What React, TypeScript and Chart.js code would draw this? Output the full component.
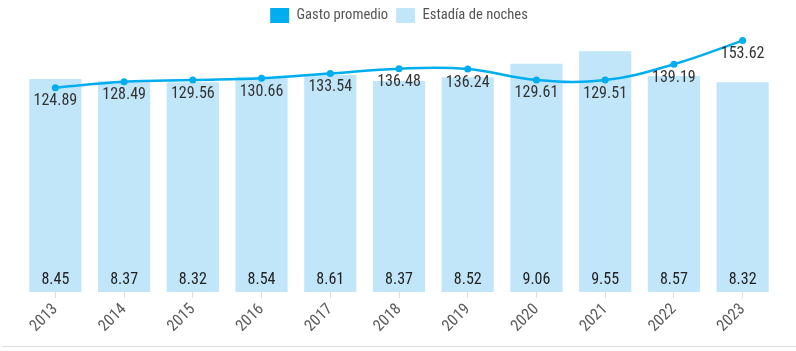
import React, { useEffect, useRef } from "react";
import { Chart, registerables } from "chart.js";

Chart.register(...registerables);

const years = ["2013", "2014", "2015", "2016", "2017", "2018", "2019", "2020", "2021", "2022", "2023"];
const gastoPromedio = [124.89, 128.49, 129.56, 130.66, 133.54, 136.48, 136.24, 129.61, 129.51, 139.19, 153.62];
const estadiaNoches = [8.45, 8.37, 8.32, 8.54, 8.61, 8.37, 8.52, 9.06, 9.55, 8.57, 8.32];

const FONT = "'Liberation Sans Narrow', 'Roboto Condensed', Roboto, sans-serif";

const labelPlugin = {
  id: "valueLabels",
  afterDatasetsDraw(chart: any) {
    const ctx = chart.ctx;
    ctx.save();
    ctx.textAlign = "center";
    ctx.textBaseline = "middle";
    ctx.font = `16px ${FONT}`;
    ctx.fillStyle = "#222222";
    const barMeta = chart.getDatasetMeta(1);
    barMeta.data.forEach((el: any, i: number) => {
      const v = chart.data.datasets[1].data[i] as number;
      ctx.fillText(v.toFixed(2), el.x, el.base - 12);
    });
    ctx.fillStyle = "#333333";
    const lineMeta = chart.getDatasetMeta(0);
    lineMeta.data.forEach((el: any, i: number) => {
      const v = chart.data.datasets[0].data[i] as number;
      ctx.fillText(v.toFixed(2), el.x, el.y + 13.5);
    });
    ctx.restore();
  },
};

const legendMarginPlugin = {
  id: "legendMargin",
  beforeInit(chart: any) {
    if (!chart.legend) return;
    const origFit = chart.legend.fit;
    chart.legend.fit = function () {
      origFit.bind(chart.legend)();
      this.height += 7;
    };
  },
};

export default function App() {
  const ref = useRef<HTMLCanvasElement | null>(null);
  useEffect(() => {
    if (!ref.current) return;
    const chart = new Chart(ref.current, {
      type: "bar",
      data: {
        labels: years,
        datasets: [
          {
            type: "line",
            label: "Gasto promedio",
            data: gastoPromedio,
            yAxisID: "y1",
            borderColor: "#00AEEF",
            backgroundColor: "#00AEEF",
            borderWidth: 2.5,
            pointRadius: 3.5,
            pointBackgroundColor: "#00AEEF",
            pointBorderWidth: 0,
            tension: 0.4,
            clip: false,
            order: 0,
          } as any,
          {
            type: "bar",
            label: "Estadía de noches",
            data: estadiaNoches,
            yAxisID: "y",
            backgroundColor: "#C2E6F9",
            borderWidth: 0,
            categoryPercentage: 0.8,
            barPercentage: 0.95,
            order: 1,
          },
        ],
      },
      options: {
        animation: false,
        responsive: false,
        maintainAspectRatio: false,
        layout: { padding: { left: 21, right: 19, top: 0, bottom: 8 } },
        plugins: {
          legend: {
            position: "top",
            labels: {
              boxWidth: 19,
              boxHeight: 15,
              color: "#555555",
              font: { family: FONT, size: 14.6 },
              padding: 8,
              generateLabels(chart: any) {
                return chart.data.datasets.map((ds: any, i: number) => ({
                  text: ds.label,
                  fillStyle: i === 0 ? "#00AEEF" : "#C2E6F9",
                  strokeStyle: i === 0 ? "#00AEEF" : "#C2E6F9",
                  lineWidth: 0,
                  hidden: false,
                  datasetIndex: i,
                  fontColor: "#555555",
                }));
              },
            },
          },
          tooltip: { enabled: false },
        },
        scales: {
          x: {
            grid: { offset: false, drawOnChartArea: false, drawTicks: true, tickLength: 6, color: "#dddddd" },
            border: { display: false },
            ticks: {
              color: "#5a5a5a",
              font: { family: FONT, size: 16 },
              maxRotation: 45,
              minRotation: 45,
              padding: 2,
            },
          },
          y: { display: false, min: 0, max: 10 },
          y1: { display: false, min: 0, max: 154 },
        },
      },
      plugins: [legendMarginPlugin, labelPlugin],
    });
    return () => chart.destroy();
  }, []);
  return (
    <div style={{ position: "fixed", left: 0, top: 0, width: 796, height: 351, background: "#fff" }}>
      <canvas ref={ref} width={796} height={346} style={{ display: "block", width: 796, height: 346 }} />
      <div style={{ position: "absolute", left: 2, right: 0, top: 346, height: 1, background: "#dddddd" }} />
    </div>
  );
}
